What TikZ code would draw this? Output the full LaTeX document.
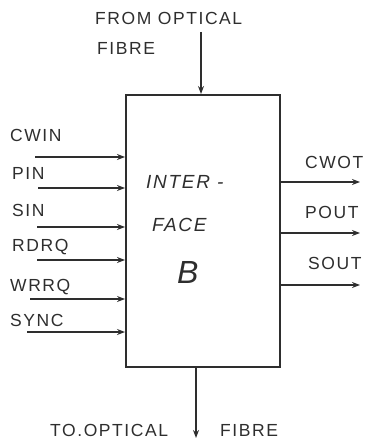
\documentclass[tikz,border=0pt]{standalone}
\usepackage{fontspec}
\newfontfamily\hand[LetterSpace=9]{Liberation Sans}
\usetikzlibrary{arrows.meta}
\definecolor{ink}{HTML}{2E2E2E}
\begin{document}
\begin{tikzpicture}[x=1pt,y=-1pt,
  lbl/.style={anchor=west,inner sep=0pt,font=\hand\fontsize{17.5}{17.5}\selectfont,text=ink},
  inlbl/.style={lbl,font=\hand\fontsize{19}{19}\selectfont\itshape},
  sig/.style={draw=ink,line width=1.6pt,-{Stealth[length=8pt,width=6pt]}}]
\useasboundingbox (0,0) rectangle (366,443);
\node[draw=ink,line width=2pt,minimum width=154pt,minimum height=272pt,inner sep=0pt] (box) at (203,231) {};
% inside text
\node[inlbl] (t1) at (146,182) {INTER -};
\node[inlbl] (t2) at (152,225) {FACE};
\node[inlbl,font=\hand\fontsize{32}{32}\selectfont\itshape] (t3) at (177,272) {B};
% top
\node[lbl] (from) at (95,18) {FROM OPTICAL};
\node[lbl] (fib1) at (97,48) {FIBRE};
\coordinate (topst) at (201,32);
\draw[sig] (topst) -- (box.north -| topst);
% bottom
\coordinate (botend) at (196,438);
\draw[sig] (box.south -| botend) -- (botend);
\node[lbl] (to) at (50,430) {TO.OPTICAL};
\node[lbl] (fib2) at (220,430) {FIBRE};
% left inputs
\foreach \name/\txt/\ly/\ay/\ax/\lx in {cwin/CWIN/135/157/35/10, pin/PIN/173/188/38/12, sin/SIN/210/227/37/12, rdrq/RDRQ/247/260/37/12, wrrq/WRRQ/287/299/30/10, sync/SYNC/320/332/27/10}{
  \node[lbl] (\name) at (\lx,\ly) {\txt};
  \coordinate (\name s) at (\ax,\ay);
  \draw[sig] (\name s) -- (box.west |- \name s);
}
% right outputs
\foreach \name/\txt/\ly/\ay/\lx in {cwot/CWOT/162/182/305, pout/POUT/212/233/305, sout/SOUT/263/285/308}{
  \node[lbl] (\name) at (\lx,\ly) {\txt};
  \coordinate (\name e) at (360,\ay);
  \draw[sig] (box.east |- \name e) -- (\name e);
}
\end{tikzpicture}
\end{document}
